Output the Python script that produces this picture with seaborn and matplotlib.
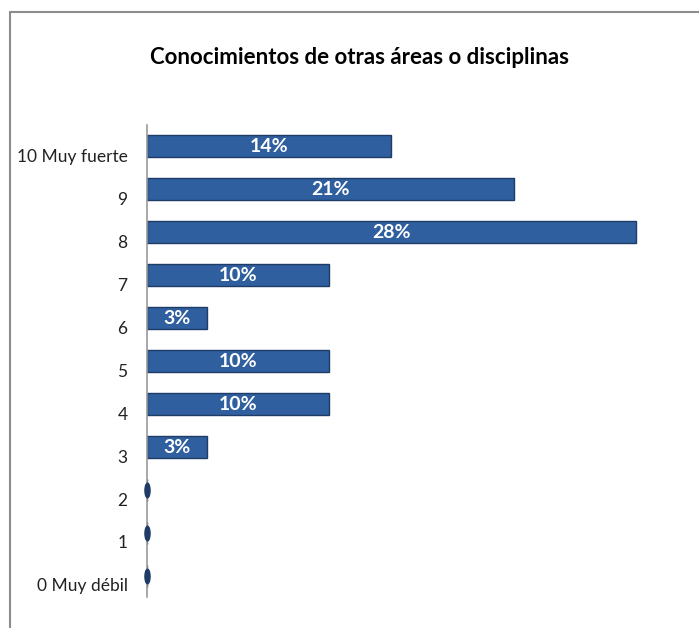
import matplotlib
matplotlib.use("Agg")
import matplotlib.pyplot as plt
import matplotlib.transforms as mtransforms
from matplotlib.path import Path
from matplotlib.lines import Line2D
import seaborn as sns
import pandas as pd

# Data
categories = ["10 Muy fuerte", "9", "8", "7", "6", "5", "4", "3", "2", "1", "0 Muy débil"]
percent = [13.8, 20.7, 27.6, 10.3, 3.4, 10.3, 10.3, 3.4, 0, 0, 0]
bar_labels = ["14%", "21%", "28%", "10%", "3%", "10%", "10%", "3%", "", "", ""]

df = pd.DataFrame({"categoria": categories, "porcentaje": percent})

sns.set_style("white")
plt.rcParams["font.family"] = ["Lato", "DejaVu Sans"]

fig = plt.figure(figsize=(6.99, 6.28), dpi=100)
ax = fig.add_axes([147 / 699, 0.0486, 531.5 / 699, 0.753])

bar_color = "#2F5F9E"
sns.barplot(data=df, x="porcentaje", y="categoria", order=categories,
            orient="h", color=bar_color, saturation=1, width=0.5,
            edgecolor="#1E3C66", linewidth=1.0, ax=ax)

# end caps for the empty categories
ellipse = Path.unit_circle().transformed(mtransforms.Affine2D().scale(0.35, 1.0))
zero = df[df["porcentaje"] == 0]
ax.scatter(zero["porcentaje"], zero["categoria"], marker=ellipse, s=110,
           color="#1E3C66", zorder=3, clip_on=False)

ax.set_xlim(0, 30)
ax.set_ylim(10.5, -0.5)
ax.set_xlabel("")
ax.set_ylabel("")
ax.set_xticks([])
ax.tick_params(axis="y", length=0, pad=14, labelsize=12.5, labelcolor="#222222")

offset = mtransforms.ScaledTranslation(0, -9 / 100, fig.dpi_scale_trans)
for lab in ax.get_yticklabels():
    lab.set_transform(lab.get_transform() + offset)

for side in ["top", "right", "bottom"]:
    ax.spines[side].set_visible(False)
ax.spines["left"].set_color("#9A9A9A")
ax.spines["left"].set_linewidth(1.2)

texts = ax.bar_label(ax.containers[0], labels=bar_labels, label_type="center",
                     color="white", fontsize=14, fontweight="bold")
lbl_off = mtransforms.ScaledTranslation(0, -4 / 100, fig.dpi_scale_trans)
for t in texts:
    t.set_transform(t.get_transform() + lbl_off)

fig.text(0.515, 1 - 58 / 628, "Conocimientos de otras áreas o disciplinas",
         ha="center", va="center", fontsize=16, fontweight="bold", color="black")

# chart border
fig.add_artist(Line2D([10 / 699, 10 / 699], [0, 1 - 12 / 628], color="#8C8C8C", lw=1.5))
fig.add_artist(Line2D([10 / 699, 1], [1 - 12 / 628, 1 - 12 / 628], color="#8C8C8C", lw=1.5))

fig.savefig("out.png", dpi=100)
